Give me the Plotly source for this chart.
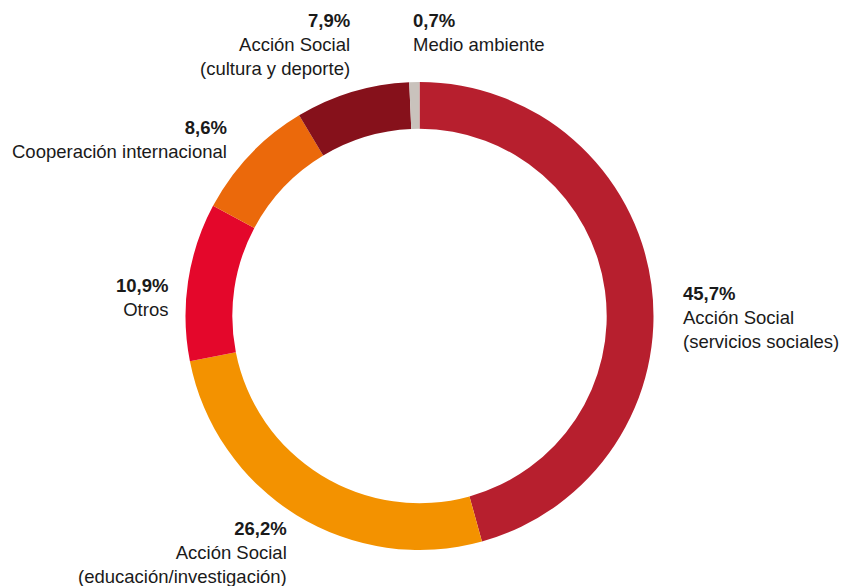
import plotly.graph_objects as go

# Distribution of the social programme budget by area (%)
labels = [
    "Acción Social<br>(servicios sociales)",
    "Acción Social<br>(educación/investigación)",
    "Otros",
    "Cooperación internacional",
    "Acción Social<br>(cultura y deporte)",
    "Medio ambiente",
]
values = [45.7, 26.2, 10.9, 8.6, 7.9, 0.7]
colors = ["#B71F2E", "#F39200", "#E4072B", "#EB690B", "#86111B", "#C9C2BC"]

# label placement (pixel x, pixel y of block centre, anchor side)
label_pos = [
    (681, 317, "left"),
    (289, 552, "right"),
    (170, 297, "right"),
    (229, 139, "right"),
    (352, 44, "right"),
    (411, 32, "left"),
]

W, H = 841, 586
cx, cy, r = 419.5, 316, 234

fig = go.Figure(
    go.Pie(
        labels=labels,
        values=values,
        marker=dict(colors=colors, line=dict(width=0)),
        hole=0.80,
        sort=False,
        direction="clockwise",
        rotation=0,
        textinfo="none",
        hoverinfo="label+percent",
        domain=dict(x=[(cx - r) / W, (cx + r) / W], y=[(H - cy - r) / H, (H - cy + r) / H]),
        showlegend=False,
    )
)

for lab, val, (px, py, side) in zip(labels, values, label_pos):
    pct = f"{val:.1f}".replace(".", ",") + "%"
    fig.add_annotation(
        x=px / W,
        y=1 - py / H,
        xref="paper",
        yref="paper",
        xanchor=side,
        yanchor="middle",
        align=side,
        showarrow=False,
        text=f"<b>{pct}</b><br>{lab}",
        font=dict(family="Liberation Sans, Arial, sans-serif", size=18.5, color="#1a1a1a"),
    )

fig.update_layout(
    width=W,
    height=H,
    margin=dict(l=0, r=0, t=0, b=0),
    paper_bgcolor="white",
    plot_bgcolor="white",
)

fig.write_html("out.html")
